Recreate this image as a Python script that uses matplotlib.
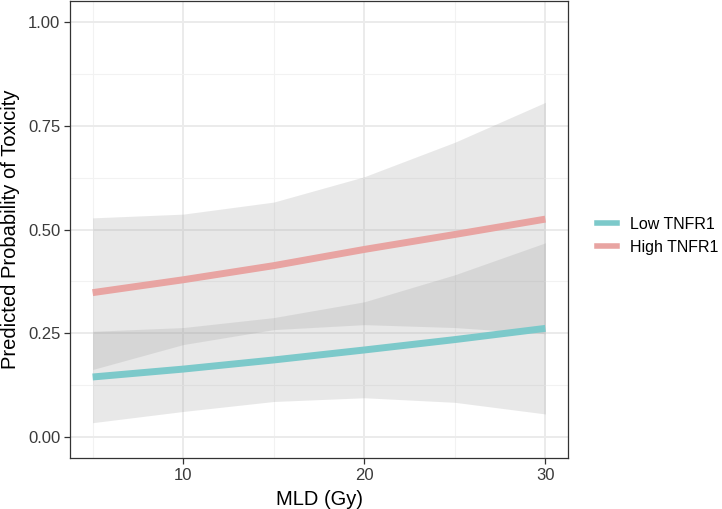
import matplotlib
matplotlib.use("Agg")
from matplotlib import pyplot as plt
from matplotlib.lines import Line2D
import numpy as np

plt.rcParams['font.family'] = ['Liberation Sans', 'DejaVu Sans']

# MLD values where the model was evaluated
mld = [5, 10, 15, 20, 25, 30]

# predicted probability + confidence band, per group
low_fit = [0.145, 0.164, 0.186, 0.210, 0.235, 0.262]
low_lower = [0.035, 0.062, 0.086, 0.095, 0.084, 0.056]
low_upper = [0.255, 0.264, 0.288, 0.326, 0.391, 0.468]

high_fit = [0.348, 0.379, 0.413, 0.452, 0.488, 0.525]
high_lower = [0.163, 0.223, 0.259, 0.271, 0.264, 0.249]
high_upper = [0.528, 0.537, 0.566, 0.627, 0.710, 0.806]

groups = ["Low TNFR1", "High TNFR1"]
colors = {"Low TNFR1": "#7cc9ca", "High TNFR1": "#e8a4a2"}

fig = plt.figure(figsize=(7.22, 5.09), dpi=100)
ax = fig.add_axes([70 / 722, 1 - 458 / 509, 498 / 722, 457 / 509])

ax.set_xlim(3.75, 31.25)
ax.set_ylim(-0.05, 1.05)

# grid like theme_bw
ax.set_xticks([10, 20, 30])
ax.set_xticks([5, 15, 25], minor=True)
ax.set_yticks([0, 0.25, 0.5, 0.75, 1.0])
ax.set_yticks([0.125, 0.375, 0.625, 0.875], minor=True)
ax.set_yticklabels(["0.00", "0.25", "0.50", "0.75", "1.00"])
ax.grid(which='major', color='#ebebeb', linewidth=1.4, zorder=0)
ax.grid(which='minor', color='#f2f2f2', linewidth=0.8, zorder=0)
ax.set_axisbelow(True)

ax.fill_between(mld, low_lower, low_upper, color='#999999', alpha=0.22, linewidth=0, zorder=1)
ax.fill_between(mld, high_lower, high_upper, color='#999999', alpha=0.22, linewidth=0, zorder=1)

ax.plot(mld, low_fit, color=colors["Low TNFR1"], linewidth=5, solid_capstyle='butt', zorder=2)
ax.plot(mld, high_fit, color=colors["High TNFR1"], linewidth=5, solid_capstyle='butt', zorder=2)

for side in ax.spines.values():
    side.set_color('#333333')
    side.set_linewidth(0.9)

ax.tick_params(which='major', length=4, width=0.9, color='#333333',
               labelsize=12, labelcolor='#3a3a3a', pad=3)
ax.tick_params(which='minor', length=0)

ax.set_xlabel("MLD (Gy)", fontsize=14.5, color='black', labelpad=5)
ax.set_ylabel("Predicted Probability of Toxicity", fontsize=14.5, color='black', labelpad=6)

handles = [Line2D([0], [0], color=colors[g], linewidth=4) for g in groups]
fig.legend(handles, groups, loc='center left', bbox_to_anchor=(597 / 722, 1 - 236 / 509),
           frameon=False, fontsize=11.5, handlelength=1.25, handletextpad=0.8,
           labelspacing=0.5, borderpad=0, borderaxespad=0)

fig.savefig("out.png", dpi=100)
